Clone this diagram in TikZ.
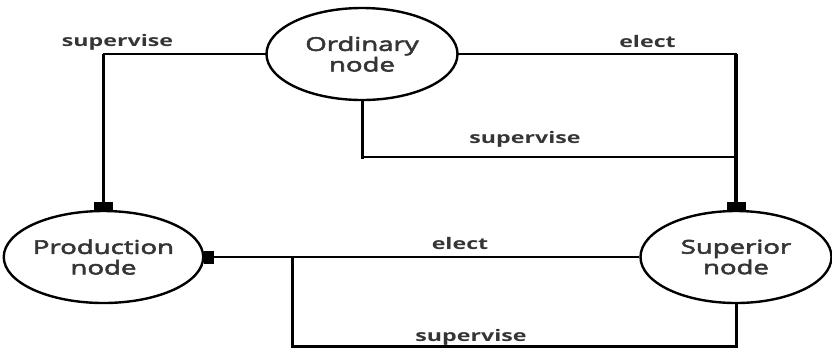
\documentclass[tikz,border=0pt]{standalone}
\usepackage{fontspec}
\setmainfont{Open Sans}
\newfontfamily\labelfont[FakeStretch=1.45]{Open Sans}
\newfontfamily\statefont[FakeStretch=1.45,FakeBold=3]{Open Sans}
\usetikzlibrary{arrows.meta,shapes.geometric}
\definecolor{inkgray}{HTML}{353535}
\tikzset{
  state/.style={draw=black, line width=2.4pt, ellipse, minimum width=191pt,
    minimum height=92pt, inner sep=0pt, align=center, text=inkgray,
    font=\statefont\fontsize{19}{20.5}\selectfont},
  lbl/.style={anchor=base, inner sep=0pt, text=inkgray,
    font=\labelfont\bfseries\fontsize{16}{18}\selectfont},
  thin link/.style={draw=black, line width=2pt, line cap=rect},
  mid link/.style={draw=black, line width=3pt, line cap=rect},
  thick link/.style={draw=black, line width=3.8pt},
  blocktip/.style={-{Rectangle[length=8pt,width=19pt]}},
  sidetip/.style={-{Rectangle[length=10pt,width=13pt]}},
}
\begin{document}
\begin{tikzpicture}[x=1pt,y=-1pt]
  \useasboundingbox (0,0) rectangle (832,349);

  % the three kinds of node
  \node[state] (ord)  at (362,54)  {Ordinary\\node};
  \node[state] (prod) at (103.5,257) {Production\\node};
  \node[state] (sup)  at (736,257) {Superior\\node};

  % corner and junction points of the orthogonal connectors
  \coordinate (cornerL) at (prod.north |- ord.west);
  \coordinate (cornerR) at (sup.north |- ord.east);
  \coordinate (midL)    at (ord.south |- 0,157);
  \coordinate (midR)    at (sup.north |- 0,157);
  \coordinate (joinB)   at (292,257);
  \coordinate (botL)    at (292,346.5);
  \coordinate (botR)    at (sup.south |- 0,346.5);

  % ordinary -> production (supervise)
  \draw[thin link] (ord.west) -- (cornerL);
  \draw[thick link, blocktip] (cornerL) -- (prod.north);

  % ordinary -> superior (elect)
  \draw[thin link] (ord.east) -- (cornerR);
  \draw[thick link, blocktip] (cornerR) -- (sup.north);

  % ordinary -> superior (supervise)
  \draw[mid link] (ord.south) -- (midL);
  \draw[thin link] (midL) -- (midR);

  % superior -> production (elect)
  \draw[thin link, line cap=butt, sidetip] (sup.west) -- (prod.east);

  % superior -> production (supervise)
  \draw[mid link] (sup.south) -- (botR) -- (botL) -- (joinB);

  % connector labels
  \node[lbl] (lsupL) at (117.5,46.5) {supervise};
  \node[lbl] (lelT)  at (647.5,47)   {elect};
  \node[lbl] (lsupM) at (525,143)    {supervise};
  \node[lbl] (lelB)  at (460,249.5)  {elect};
  \node[lbl] (lsupB) at (471,341)    {supervise};
\end{tikzpicture}
\end{document}
